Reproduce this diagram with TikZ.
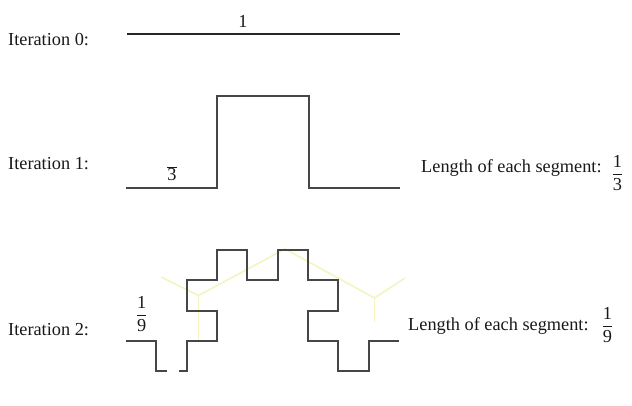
\documentclass[tikz,border=0pt]{standalone}
\usepackage{fontspec}
\setmainfont{Liberation Serif}
\definecolor{guideyellow}{RGB}{244,244,190}
\definecolor{inkgray}{RGB}{70,70,70}
\begin{document}
\begin{tikzpicture}[x=1pt,y=-1pt,
  lbl/.style={font=\fontsize{18.3}{20}\selectfont, text=black!90, inner sep=0pt},
  curve/.style={draw=inkgray, line width=1.7pt, line join=miter},
  guide/.style={draw=guideyellow, line width=1.5pt}]
\useasboundingbox[fill=white] (0,0) rectangle (632,406);

% faint yellow guide lines
\draw[guide] (161,277) -- (198.5,295.5) -- (285,249) -- (374.5,298) -- (405,278);
\draw[guide] (198.5,295.5) -- (198.5,341);
\draw[guide] (374.5,298) -- (374.5,322);

% iteration 0
\draw[curve, draw=black!85, line width=1.9pt] (127,34) -- (400,34);
% iteration 1
\draw[curve] (126,188) -- (217,188) -- (217,96) -- (309,96) -- (309,188) -- (400,188);
% iteration 2
\begin{scope}[shift={(126,341)}, x=30.333pt, y=30.333pt]
  \draw[curve] (0,0) -- (1,0) -- (1,-1) -- (1.34,-1);
  \draw[curve] (1.75,-1) -- (2,-1) -- (2,0) -- (3,0) -- (3,1) -- (2,1) -- (2,2) -- (3,2)
    -- (3,3) -- (4,3) -- (4,2) -- (5,2) -- (5,3) -- (6,3) -- (6,2) -- (7,2) -- (7,1)
    -- (6,1) -- (6,0) -- (7,0) -- (7,-1) -- (8,-1) -- (8,0) -- (9,0);
\end{scope}

% labels
\node[lbl, anchor=west] (it0) at (8,40) {Iteration 0:};
\node[lbl] (one) at (243,21) {1};
\node[lbl, anchor=west] (it1) at (8,164) {Iteration 1:};
\node[lbl, anchor=west] (it2) at (8,330) {Iteration 2:};
\node[lbl] (third) at (172,174) {$\overline{\mbox{3}}$};
\node[lbl] (ninth) at (141.7,314) {$\displaystyle\frac{\mbox{1}}{\mbox{9}}$};
\node[lbl, anchor=base west] (len1) at (421,173) {Length of each segment:};
\node[lbl] (f1) at (617.5,173) {$\displaystyle\frac{\mbox{1}}{\mbox{3}}$};
\node[lbl, anchor=base west] (len2) at (408,330) {Length of each segment:};
\node[lbl] (f2) at (607.5,325) {$\displaystyle\frac{\mbox{1}}{\mbox{9}}$};
\end{tikzpicture}
\end{document}
